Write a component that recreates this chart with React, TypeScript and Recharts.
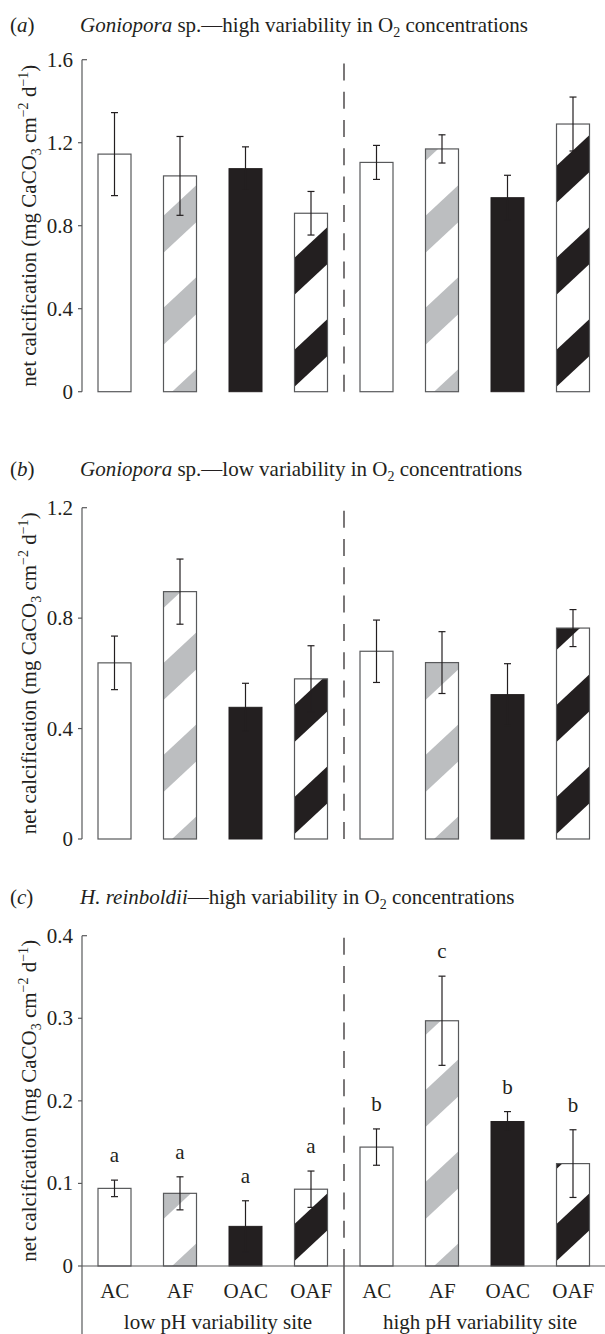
import React from 'react';
import { BarChart, Bar, XAxis, YAxis, ErrorBar, ReferenceLine, LabelList } from 'recharts';

// Treatments, repeated for each site
const treatments = ['AC', 'AF', 'OAC', 'OAF'];
const sites = ['low pH variability site', 'high pH variability site'];
const fillKinds = ['open', 'greyStripe', 'solid', 'blackStripe'];

// (a) Goniopora sp. — high variability in O2
const goniHighO2Means = [1.145, 1.04, 1.075, 0.86, 1.105, 1.17, 0.935, 1.29];
const goniHighO2Errs = [0.2, 0.19, 0.105, 0.105, 0.082, 0.068, 0.108, 0.13];

// (b) Goniopora sp. — low variability in O2
const goniLowO2Means = [0.638, 0.896, 0.477, 0.58, 0.68, 0.639, 0.523, 0.764];
const goniLowO2Errs = [0.097, 0.118, 0.087, 0.12, 0.113, 0.112, 0.112, 0.067];

// (c) H. reinboldii — high variability in O2
const hReinHighO2Means = [0.094, 0.088, 0.048, 0.093, 0.144, 0.297, 0.175, 0.124];
const hReinHighO2Errs = [0.01, 0.02, 0.031, 0.022, 0.022, 0.054, 0.012, 0.041];
const hReinLetters = ['a', 'a', 'a', 'a', 'b', 'c', 'b', 'b'];

const ticksA = [0, 0.4, 0.8, 1.2, 1.6];
const ticksB = [0, 0.4, 0.8, 1.2];
const ticksC = [0, 0.1, 0.2, 0.3, 0.4];
const tickLabelsC = ['0', '0.1', '0.2', '0.3', '0.4'];

// Positions (in bar-slot units) of the site divider, plot edge and site captions
const siteDivider = 3.5;
const plotLeftEdge = -0.5;
const siteCaptionSlots = [1.5, 5.5];

const INK = '#231f20';
const GREY = '#bcbec0';
const OUTLINE = '#58595b';
const FONT = '"Liberation Serif", "Times New Roman", serif';
const FS = 21;

const SLOPE = Math.tan((43 * Math.PI) / 180);
const STRIPE_PERIOD = 92;
const STRIPE_WIDTH = 37;

type Row = { slot: string; pos: number; value: number; err: number };

function buildRows(means: number[], errs: number[]): Row[] {
  return means.map((m, i) => ({
    slot: `${i < 4 ? 'low' : 'high'}|${treatments[i % 4]}`,
    pos: i,
    value: m,
    err: errs[i],
  }));
}

const rowsA = buildRows(goniHighO2Means, goniHighO2Errs);
const rowsB = buildRows(goniLowO2Means, goniLowO2Errs);
const rowsC = buildRows(hReinHighO2Means, hReinHighO2Errs);

// Bar drawn as an outlined rectangle, optionally with diagonal stripes
function makeBarShape(panelId: string) {
  return (props: any) => {
    const { x, y, width, height, index } = props;
    if (!(width > 0) || !(height > 0)) return <g />;
    const kind = fillKinds[index % 4];
    if (kind === 'solid') {
      return <rect x={x} y={y} width={width} height={height} fill={INK} stroke={INK} strokeWidth={1} />;
    }
    if (kind === 'open') {
      return <rect x={x} y={y} width={width} height={height} fill="#fff" stroke={OUTLINE} strokeWidth={1.2} />;
    }
    const color = kind === 'greyStripe' ? GREY : INK;
    const phase = kind === 'greyStripe' ? 8 : -42;
    const base = y + height;
    const c0 = base + SLOPE * x;
    const cTop = y + SLOPE * x;
    const bands: React.ReactNode[] = [];
    for (let n = -1; n < 40; n++) {
      const s = c0 + phase - n * STRIPE_PERIOD;
      const e = s + STRIPE_WIDTH;
      if (e < cTop) break;
      const x2 = x + width;
      const pts = [
        [x, s - SLOPE * x],
        [x2, s - SLOPE * x2],
        [x2, e - SLOPE * x2],
        [x, e - SLOPE * x],
      ]
        .map((p) => p.join(','))
        .join(' ');
      bands.push(<polygon key={n} points={pts} fill={color} />);
    }
    const clipId = `clip-${panelId}-${index}`;
    return (
      <g>
        <defs>
          <clipPath id={clipId}>
            <rect x={x} y={y} width={width} height={height} />
          </clipPath>
        </defs>
        <rect x={x} y={y} width={width} height={height} fill="#fff" />
        <g clipPath={`url(#${clipId})`}>{bands}</g>
        <rect x={x} y={y} width={width} height={height} fill="none" stroke={OUTLINE} strokeWidth={1.2} />
      </g>
    );
  };
}

function makeYTick(maxValue: number, labels?: string[], ticks?: number[]) {
  return (props: any) => {
    const { x, y, payload } = props;
    const v = payload.value as number;
    const isTop = Math.abs(v - maxValue) < 1e-9;
    let text = String(v);
    if (labels && ticks) {
      const i = ticks.findIndex((t) => Math.abs(t - v) < 1e-9);
      if (i >= 0) text = labels[i];
    }
    return (
      <g>
        <line x1={isTop ? x : x - 4} x2={isTop ? x + 5 : x} y1={y} y2={y} stroke={OUTLINE} strokeWidth={1.2} />
        <text x={x - 9} y={y + 7} textAnchor="end" fontFamily={FONT} fontSize={FS} fill={INK}>
          {text}
        </text>
      </g>
    );
  };
}

const CategoryTick = (props: any) => {
  const { x, y, payload } = props;
  const label = String(payload.value).split('|')[1];
  return (
    <text x={x} y={y + 32} textAnchor="middle" fontFamily={FONT} fontSize={FS} fill={INK}>
      {label}
    </text>
  );
};

const SiteTick = (props: any) => {
  const { x, y, payload } = props;
  const label = payload.value < siteDivider ? sites[0] : sites[1];
  return (
    <text x={x + 5} y={y + 29} textAnchor="middle" fontFamily={FONT} fontSize={FS} fill={INK}>
      {label}
    </text>
  );
};

type PanelProps = {
  id: string;
  top: number;
  height: number;
  plotTop: number;
  plotBottomGap: number;
  rows: Row[];
  ticks: number[];
  tickLabels?: string[];
  withCategories?: boolean;
  letters?: string[];
};

const CHART_WIDTH = 612;

function Panel({ id, top, height, plotTop, plotBottomGap, rows, ticks, tickLabels, withCategories, letters }: PanelProps) {
  const yMax = ticks[ticks.length - 1];
  const axisHeight = withCategories ? 34 : 0;
  const renderLetter = (p: any) => {
    const { x, y, width, height: h, index } = p;
    if (!letters || !(h > 0)) return <g />;
    const row = rows[index];
    const errTop = y - (row.err * h) / row.value;
    return (
      <text x={x + width / 2} y={errTop - 18} textAnchor="middle" fontFamily={FONT} fontSize={FS} fill={INK}>
        {letters[index]}
      </text>
    );
  };
  return (
    <div style={{ position: 'absolute', left: 0, top, width: CHART_WIDTH, height }}>
      <BarChart
        width={CHART_WIDTH}
        height={height}
        data={rows}
        margin={{ top: plotTop, right: 6, bottom: plotBottomGap - 2 * axisHeight, left: 0 }}
        barCategoryGap="50%"
      >
        <XAxis
          dataKey="slot"
          height={axisHeight}
          axisLine={{ stroke: OUTLINE, strokeWidth: 1.2 }}
          tickLine={false}
          tickSize={0}
          tickMargin={0}
          tick={withCategories ? <CategoryTick /> : false}
          interval={0}
        />
        <XAxis
          xAxisId="div"
          dataKey="pos"
          type="number"
          domain={[-0.5, 7.5]}
          allowDataOverflow
          ticks={siteCaptionSlots}
          height={axisHeight}
          hide={!withCategories}
          axisLine={false}
          tickLine={false}
          tickSize={0}
          tickMargin={0}
          tick={withCategories ? <SiteTick /> : false}
          interval={0}
        />
        <YAxis
          width={82}
          domain={[0, yMax]}
          ticks={ticks}
          interval={0}
          axisLine={{ stroke: OUTLINE, strokeWidth: 1.2 }}
          tickLine={false}
          tickSize={0}
          tickMargin={0}
          tick={makeYTick(yMax, tickLabels, ticks)}
        />
        <ReferenceLine
          xAxisId="div"
          x={siteDivider}
          stroke={INK}
          strokeWidth={1.2}
          strokeDasharray="17 11.3"
        />
        {withCategories && (
          <ReferenceLine
            xAxisId="div"
            segment={[{ x: siteDivider, y: 0 }, { x: siteDivider, y: -0.083 }]}
            ifOverflow="visible"
            stroke={INK}
            strokeWidth={1.2}
          />
        )}
        {withCategories && (
          <ReferenceLine
            xAxisId="div"
            segment={[{ x: plotLeftEdge, y: 0 }, { x: plotLeftEdge, y: -0.083 }]}
            ifOverflow="visible"
            stroke={OUTLINE}
            strokeWidth={1.2}
          />
        )}
        <Bar dataKey="value" barSize={33} isAnimationActive={false} shape={makeBarShape(id)}>
          <ErrorBar dataKey="err" width={3.5} stroke={INK} strokeWidth={1.2} direction="y" />
          {letters && <LabelList dataKey="value" content={renderLetter} />}
        </Bar>
      </BarChart>
    </div>
  );
}

function Title({ y, tag, italicPart, rest }: { y: number; tag: string; italicPart: string; rest: string }) {
  return (
    <g fontFamily={FONT} fontSize={FS} fill={INK}>
      <text x={10} y={y}>
        (<tspan fontStyle="italic">{tag}</tspan>)
      </text>
      <text x={80} y={y}>
        <tspan fontStyle="italic">{italicPart}</tspan>
        {rest}O<tspan dy={5} fontSize={14}>2</tspan>
        <tspan dy={-5}> concentrations</tspan>
      </text>
    </g>
  );
}

function YTitle({ cy }: { cy: number }) {
  const cx = 36.5;
  return (
    <text
      x={cx}
      y={cy}
      transform={`rotate(-90, ${cx}, ${cy})`}
      textAnchor="middle"
      fontFamily={FONT}
      fontSize={FS}
      fill={INK}
    >
      net calcification (mg CaCO<tspan dy={5} fontSize={14}>3</tspan>
      <tspan dy={-5}> cm</tspan>
      <tspan dy={-8} fontSize={14}>−2</tspan>
      <tspan dy={8}> d</tspan>
      <tspan dy={-8} fontSize={14}>−1</tspan>
      <tspan dy={8}>)</tspan>
    </text>
  );
}

export default function App() {
  return (
    <div
      style={{
        position: 'absolute',
        left: 0,
        top: 0,
        width: 605,
        height: 1334,
        overflow: 'hidden',
        background: '#fff',
      }}
    >
      <Panel id="a" top={0} height={430} plotTop={59.7} plotBottomGap={38.3} rows={rowsA} ticks={ticksA} />
      <Panel id="b" top={430} height={430} plotTop={77.7} plotBottomGap={21} rows={rowsB} ticks={ticksB} />
      <Panel
        id="c"
        top={860}
        height={474}
        plotTop={75.7}
        plotBottomGap={68}
        rows={rowsC}
        ticks={ticksC}
        tickLabels={tickLabelsC}
        withCategories
        letters={hReinLetters}
      />
      <svg
        width={605}
        height={1334}
        style={{ position: 'absolute', left: 0, top: 0, pointerEvents: 'none' }}
      >
        <Title y={32} tag="a" italicPart="Goniopora" rest=" sp.—high variability in " />
        <Title y={476} tag="b" italicPart="Goniopora" rest=" sp.—low variability in " />
        <Title y={904} tag="c" italicPart="H. reinboldii" rest="—high variability in " />
        <YTitle cy={(59.7 + 391.7) / 2} />
        <YTitle cy={(507.7 + 839) / 2} />
        <YTitle cy={(935.7 + 1266) / 2} />
      </svg>
    </div>
  );
}
